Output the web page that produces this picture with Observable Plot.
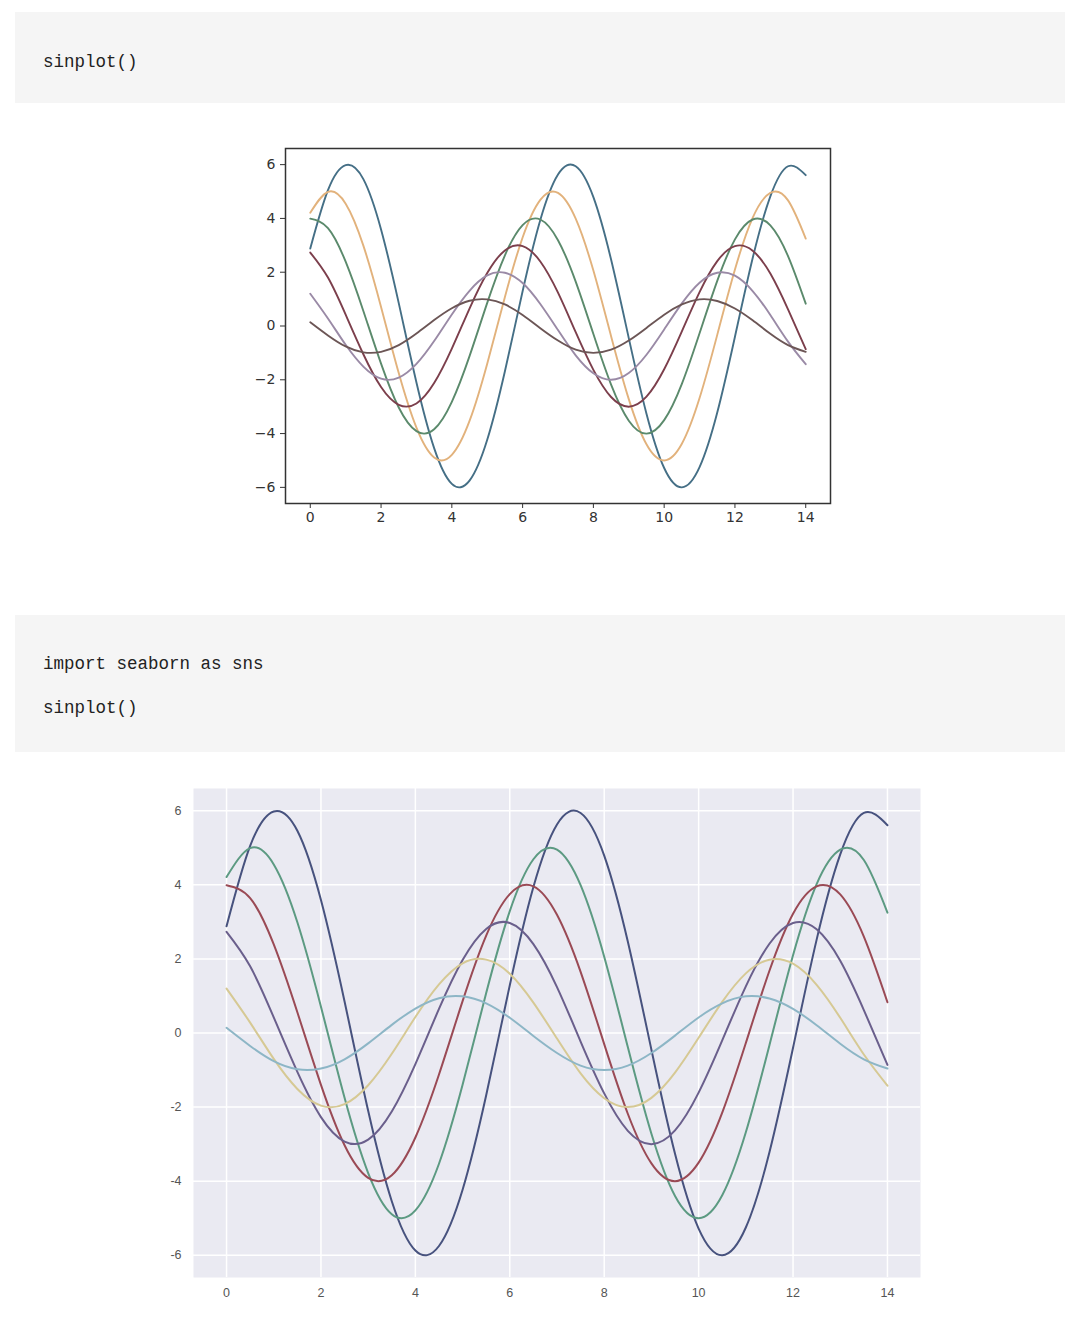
<!DOCTYPE html>
<html>
<head>
<meta charset="utf-8">
<script src="https://cdn.jsdelivr.net/npm/d3@7"></script>
<script src="https://cdn.jsdelivr.net/npm/@observablehq/plot@0.6"></script>
<style>
  html, body { margin: 0; padding: 0; background: #ffffff; }
  body { width: 1080px; height: 1327px; position: relative; overflow: hidden; }
  .code { position: absolute; left: 15px; width: 1050px; background: #f5f5f5; }
  .code pre { position: absolute; left: 28px; margin: 0; font-family: "Liberation Mono", "DejaVu Sans Mono", monospace; font-size: 17.5px; color: #222; }
  .chart { position: absolute; }
</style>
</head>
<body>
<div class="code" style="top:12px;height:91px;"><pre style="top:40px;">sinplot()</pre></div>
<div class="code" style="top:615px;height:137px;"><pre style="top:39px;">import seaborn as sns</pre><pre style="top:83px;">sinplot()</pre></div>
<div id="c1" class="chart" style="left:245px;top:130px;"></div>
<div id="c2" class="chart" style="left:140px;top:770px;"></div>
<script>
// x positions (step 0.5 from 0 to 14)
const xs = [0,0.5,1,1.5,2,2.5,3,3.5,4,4.5,5,5.5,6,6.5,7,7.5,8,8.5,9,9.5,10,10.5,11,11.5,12,12.5,13,13.5,14];
// series values (amplitudes 6..1)
const line1 = [2.88,5.05,5.98,5.46,3.59,0.85,-2.10,-4.54,-5.87,-5.75,-4.23,-1.68,1.29,3.94,5.63,5.94,4.79,2.47,-0.45,-3.26,-5.28,-6.00,-5.25,-3.22,-0.40,2.52,4.82,5.94,5.61];
const line2 = [4.21,4.99,4.55,2.99,0.71,-1.75,-3.78,-4.89,-4.79,-3.53,-1.40,1.08,3.29,4.69,4.95,3.99,2.06,-0.38,-2.72,-4.40,-5.00,-4.38,-2.68,-0.33,2.10,4.02,4.95,4.67,3.25];
const line3 = [3.99,3.64,2.39,0.56,-1.40,-3.03,-3.91,-3.84,-2.82,-1.12,0.86,2.63,3.75,3.96,3.19,1.65,-0.30,-2.18,-3.52,-4.00,-3.50,-2.15,-0.27,1.68,3.22,3.96,3.74,2.60,0.83];
const line4 = [2.73,1.80,0.42,-1.05,-2.27,-2.93,-2.88,-2.12,-0.84,0.65,1.97,2.81,2.97,2.40,1.24,-0.23,-1.63,-2.64,-3.00,-2.63,-1.61,-0.20,1.26,2.41,2.97,2.80,1.95,0.62,-0.86];
const line5 = [1.20,0.28,-0.70,-1.51,-1.96,-1.92,-1.41,-0.56,0.43,1.31,1.88,1.98,1.60,0.82,-0.15,-1.09,-1.76,-2.00,-1.75,-1.07,-0.13,0.84,1.61,1.98,1.87,1.30,0.41,-0.58,-1.42];
const line6 = [0.14,-0.35,-0.76,-0.98,-0.96,-0.71,-0.28,0.22,0.66,0.94,0.99,0.80,0.41,-0.08,-0.54,-0.88,-1.00,-0.88,-0.54,-0.07,0.42,0.80,0.99,0.93,0.65,0.21,-0.29,-0.71,-0.96];
const seriesNames = ["s1","s2","s3","s4","s5","s6"];
const xTicks = [0,2,4,6,8,10,12,14];
const yTicks = [-6,-4,-2,0,2,4,6];
const mplColors = ["#456f86","#e2b27c","#5b8a6c","#7c3f4c","#9a8aa6","#6c5656"];
const snsColors = ["#47527e","#5c9a82","#9a4a55","#6a5f8c","#d6c994","#8db6c6"];

const allLines = [line1,line2,line3,line4,line5,line6];
const data = [];
allLines.forEach((arr, i) => arr.forEach((v, k) => data.push({x: xs[k], y: v, s: seriesNames[i]})));

// Chart 1: matplotlib default style
const chart1 = Plot.plot({
  width: 600, height: 410,
  marginLeft: 40, marginRight: 15, marginTop: 18, marginBottom: 37,
  style: {fontFamily: "DejaVu Sans", fontSize: "14px", color: "#333", background: "transparent"},
  x: {domain: [-0.7, 14.7], ticks: xTicks, tickSize: 5, tickPadding: 4, label: null, tickFormat: d => String(d)},
  y: {domain: [-6.6, 6.6], ticks: yTicks, tickSize: 5, tickPadding: 5, label: null, tickFormat: d => d < 0 ? "\u2212" + Math.abs(d) : String(d)},
  color: {domain: seriesNames, range: mplColors},
  marks: [
    Plot.line(data, {x: "x", y: "y", z: "s", stroke: "s", curve: "natural", strokeWidth: 1.9}),
    Plot.frame({stroke: "#333", strokeWidth: 1.5})
  ]
});
document.getElementById("c1").appendChild(chart1);

// Chart 2: seaborn darkgrid style
const chart2 = Plot.plot({
  width: 800, height: 540,
  marginLeft: 53, marginRight: 20, marginTop: 18, marginBottom: 33,
  style: {fontFamily: "Liberation Sans", fontSize: "12.5px", color: "#555", background: "transparent"},
  x: {domain: [-0.7, 14.7], ticks: xTicks, tickSize: 0, tickPadding: 11, label: null, tickFormat: d => String(d)},
  y: {domain: [-6.6, 6.6], ticks: yTicks, tickSize: 0, tickPadding: 12, label: null, tickFormat: d => String(d)},
  color: {domain: seriesNames, range: snsColors},
  marks: [
    Plot.frame({fill: "#eaeaf2", stroke: "none"}),
    Plot.gridX(xTicks, {stroke: "#ffffff", strokeOpacity: 1, strokeWidth: 1.5}),
    Plot.gridY(yTicks, {stroke: "#ffffff", strokeOpacity: 1, strokeWidth: 1.5}),
    Plot.line(data, {x: "x", y: "y", z: "s", stroke: "s", curve: "natural", strokeWidth: 2})
  ]
});
document.getElementById("c2").appendChild(chart2);
</script>
</body>
</html>
